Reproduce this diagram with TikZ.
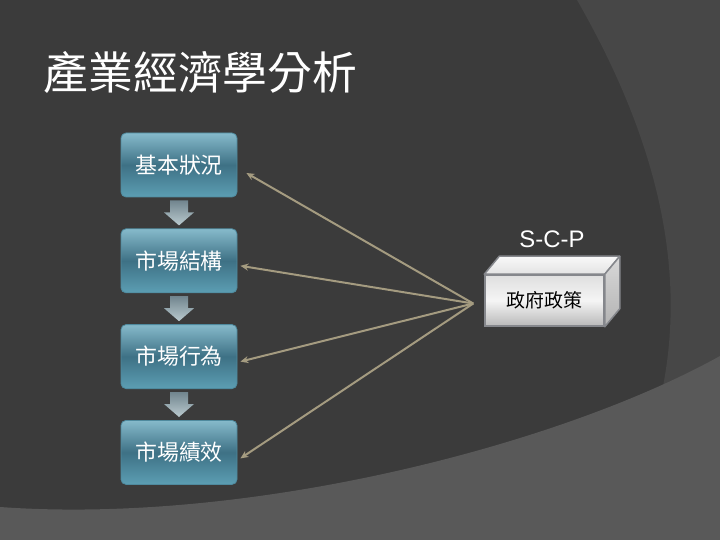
\documentclass[tikz,border=0pt]{standalone}
\usepackage{fontspec}
\setmainfont{Liberation Sans}
\newfontfamily\cjk{Noto Sans CJK TC}
\usepackage{tikz}
\usetikzlibrary{arrows.meta, positioning, calc}
\usepackage{xcolor}
\definecolor{bgdark}{HTML}{3B3B3B}
\definecolor{bgmid}{HTML}{474747}
\definecolor{bglight}{HTML}{595959}
\definecolor{boxtop}{HTML}{86BACB}
\definecolor{boxmid}{HTML}{3E7185}
\definecolor{boxbot}{HTML}{5C9EB3}
\definecolor{boxedge}{HTML}{4F8A9E}
\definecolor{linktan}{HTML}{A49B80}
\definecolor{arrtop}{HTML}{71858E}
\definecolor{arrbot}{HTML}{BACACF}
\definecolor{govedge}{HTML}{85878C}

\begin{document}
\begin{tikzpicture}[
      x=1bp, y=-1bp,
      >={Stealth[length=8bp, width=7bp]},
      node distance=31bp,
      title/.style={text=white, font=\cjk\fontsize{45}{45}\selectfont},
      stage/.style={
        rectangle, draw=boxedge, rounded corners=5bp, line width=0.8bp,
        minimum width=116bp, minimum height=64bp, inner sep=0pt,
        top color=boxtop, bottom color=boxbot, middle color=boxmid,
        text=white, font=\cjk\fontsize{22}{22}\selectfont
      },
      policy/.style={
        rectangle, draw=govedge, line width=1.5bp,
        minimum width=119bp, minimum height=51bp, inner sep=0pt,
        top color=gray!25, bottom color=gray!55, middle color=gray!8,
        font=\cjk\fontsize{19}{19}\selectfont
      },
      facetop/.style={draw=govedge, line width=1.5bp, line join=round,
        top color=gray!5, bottom color=gray!22},
      faceside/.style={draw=govedge, line width=1.5bp, line join=round,
        top color=gray!30, bottom color=gray!60},
      flowarr/.style={top color=arrtop, bottom color=arrbot},
      link/.style={->, draw=linktan, line width=2bp}
    ]
    % background
    \useasboundingbox (0,0) rectangle (720,540);
    \fill[bgdark] (0,0) rectangle (720,540);
    \fill[bgmid] (577,0) .. controls (640,110) and (700,260) .. (655,420)
      -- (720,420) -- (720,0) -- cycle;
    \fill[bglight] (0,507) .. controls (250,525) and (560,445) .. (720,356)
      -- (720,540) -- (0,540) -- cycle;

    \node[title, anchor=west] (head) at (40,72) {產業經濟學分析};

    \node[stage] (basic) at (179,165) {基本狀況};
    \node[stage, below=of basic]   (struct)  {市場結構};
    \node[stage, below=of struct]  (conduct) {市場行為};
    \node[stage, below=of conduct] (perf)    {市場績效};

    \foreach \a in {basic, struct, conduct}
      \path[flowarr] ($(\a.south)+(-9,3)$) -- ++(18,0) -- ++(0,12) -- ++(6,0)
        -- ++(-15,13) -- ++(-15,-13) -- ++(6,0) -- cycle;

    % government policy box
    \node[policy] (gov) at (544.5,300.5) {政府政策};
    \path[facetop] (gov.north west) -- ++(15,-18) -- ($(gov.north east)+(15,-18)$)
      -- (gov.north east) -- cycle;
    \path[faceside] (gov.north east) -- ++(15,-18) -- ($(gov.south east)+(15,-18)$)
      -- (gov.south east) -- cycle;
    \node[text=white, font=\fontsize{24}{24}\selectfont] (scp) at (552,239) {S-C-P};

    \coordinate (hub) at ($(gov.west)+(-11,3)$);
    \foreach \t/\dx/\dy in {basic/9/8, struct/3/5, conduct/3/5, perf/3/6}
      \draw[link] (hub) -- ($(\t.east)+(\dx,\dy)$);
  \end{tikzpicture}
\end{document}
